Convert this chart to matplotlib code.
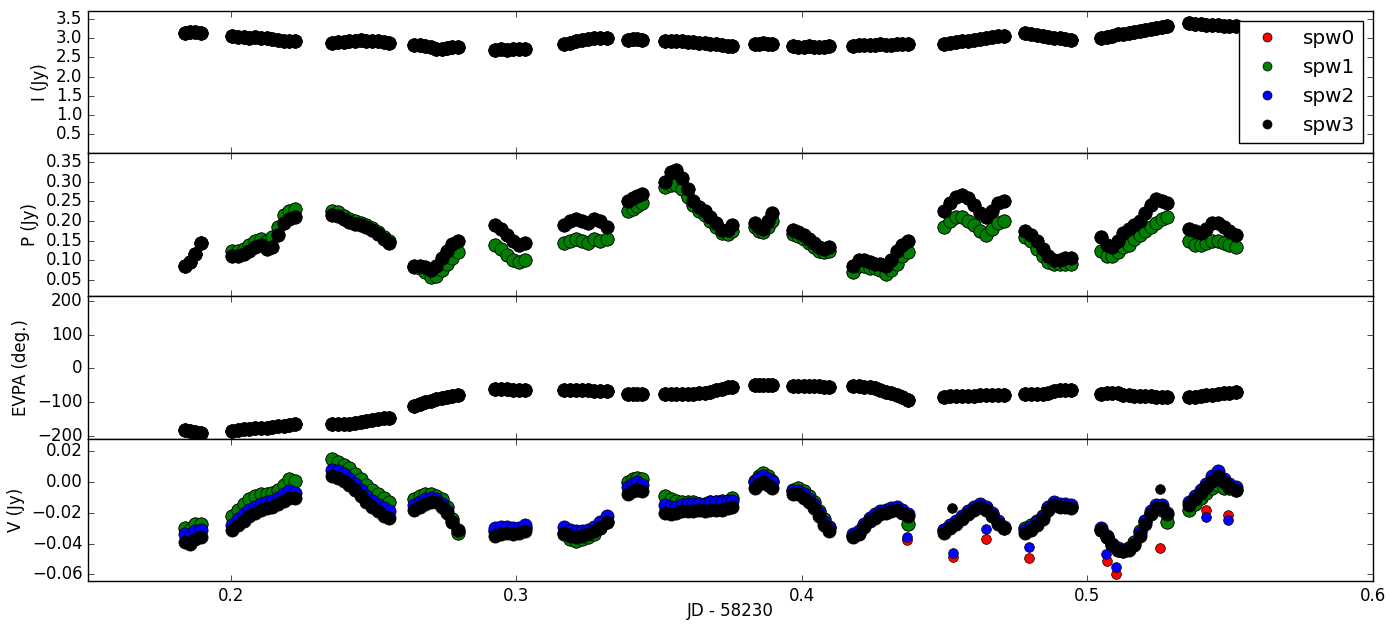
import numpy as np
import matplotlib
matplotlib.use('Agg')
import matplotlib.pyplot as plt

plt.style.use('classic')

# sample times (JD - 58230), one line per scan
jd = np.array([
    0.1838, 0.1857, 0.1876, 0.1896,
    0.2005, 0.2025, 0.2045, 0.2065, 0.2085, 0.2105, 0.2125, 0.2145, 0.2165, 0.2185, 0.2205, 0.2225,
    0.2355, 0.2375, 0.2395, 0.2415, 0.2435, 0.2455, 0.2475, 0.2495, 0.2515, 0.2535, 0.2555,
    0.2643, 0.2662, 0.2681, 0.2700, 0.2719, 0.2738, 0.2757, 0.2776, 0.2797,
    0.2925, 0.2946, 0.2967, 0.2988, 0.3009, 0.3030,
    0.3167, 0.3188, 0.3209, 0.3230, 0.3251, 0.3272, 0.3293, 0.3316,
    0.3391, 0.3408, 0.3424, 0.3441,
    0.3520, 0.3540, 0.3560, 0.3580, 0.3600, 0.3620, 0.3640, 0.3660, 0.3680, 0.3700, 0.3720, 0.3740, 0.3755,
    0.3835, 0.3850, 0.3865, 0.3880, 0.3895,
    0.3970, 0.3988, 0.4006, 0.4024, 0.4042, 0.4060, 0.4078, 0.4095,
    0.4180, 0.4199, 0.4218, 0.4237, 0.4256, 0.4275, 0.4294, 0.4313, 0.4332, 0.4351, 0.4370,
    0.4498, 0.4519, 0.4540, 0.4561, 0.4582, 0.4603, 0.4624, 0.4645, 0.4666, 0.4687, 0.4708,
    0.4783, 0.4803, 0.4823, 0.4843, 0.4863, 0.4883, 0.4903, 0.4923, 0.4942,
    0.5048, 0.5067, 0.5086, 0.5106, 0.5125, 0.5144, 0.5164, 0.5183, 0.5202, 0.5222, 0.5241, 0.5260, 0.5280,
    0.5357, 0.5377, 0.5397, 0.5417, 0.5437, 0.5457, 0.5477, 0.5497, 0.5520,
])

# Stokes I (Jy), all spws
i_jy = np.array([
    3.15, 3.17, 3.16, 3.14,
    3.05, 3.04, 3.03, 3.02, 3.03, 3.01, 3.00, 2.98, 2.95, 2.93, 2.92, 2.92,
    2.88, 2.89, 2.90, 2.92, 2.94, 2.95, 2.94, 2.93, 2.92, 2.90, 2.88,
    2.83, 2.82, 2.80, 2.76, 2.73, 2.72, 2.75, 2.77, 2.78,
    2.70, 2.71, 2.70, 2.72, 2.71, 2.72,
    2.84, 2.88, 2.92, 2.96, 2.99, 3.02, 3.02, 3.00,
    2.96, 2.97, 2.97, 2.96,
    2.93, 2.93, 2.92, 2.92, 2.90, 2.89, 2.88, 2.87, 2.86, 2.84, 2.82, 2.81, 2.80,
    2.85, 2.86, 2.87, 2.86, 2.85,
    2.79, 2.78, 2.78, 2.79, 2.78, 2.77, 2.78, 2.79,
    2.81, 2.82, 2.83, 2.82, 2.83, 2.84, 2.83, 2.83, 2.84, 2.84, 2.85,
    2.85, 2.87, 2.90, 2.92, 2.93, 2.95, 2.98, 3.00, 3.03, 3.05, 3.07,
    3.13, 3.10, 3.08, 3.06, 3.04, 3.02, 3.00, 2.97, 2.95,
    3.02, 3.04, 3.07, 3.10, 3.12, 3.15, 3.17, 3.19, 3.21, 3.24, 3.27, 3.30, 3.33,
    3.40, 3.38, 3.36, 3.35, 3.35, 3.34, 3.33, 3.32, 3.33,
])

# polarized flux (Jy): spw0/spw1 and spw2/spw3
p_spw01 = np.array([
    0.085, 0.095, 0.115, 0.145,
    0.125, 0.125, 0.130, 0.140, 0.150, 0.155, 0.150, 0.160, 0.185, 0.215, 0.225, 0.230,
    0.225, 0.222, 0.212, 0.205, 0.200, 0.195, 0.190, 0.183, 0.172, 0.160, 0.150,
    0.082, 0.080, 0.070, 0.057, 0.060, 0.075, 0.090, 0.105, 0.120,
    0.140, 0.128, 0.113, 0.100, 0.095, 0.100,
    0.145, 0.150, 0.155, 0.150, 0.145, 0.155, 0.150, 0.155,
    0.225, 0.230, 0.237, 0.245,
    0.285, 0.290, 0.290, 0.282, 0.260, 0.240, 0.225, 0.215, 0.200, 0.185, 0.170, 0.168, 0.175,
    0.185, 0.175, 0.172, 0.185, 0.200,
    0.168, 0.162, 0.155, 0.145, 0.135, 0.125, 0.120, 0.125,
    0.070, 0.085, 0.085, 0.080, 0.080, 0.075, 0.065, 0.075, 0.090, 0.110, 0.120,
    0.185, 0.200, 0.210, 0.210, 0.200, 0.190, 0.175, 0.165, 0.180, 0.195, 0.200,
    0.160, 0.150, 0.130, 0.110, 0.095, 0.090, 0.090, 0.090, 0.090,
    0.125, 0.110, 0.110, 0.120, 0.135, 0.140, 0.155, 0.165, 0.175, 0.185, 0.195, 0.205, 0.210,
    0.150, 0.140, 0.140, 0.145, 0.150, 0.150, 0.145, 0.140, 0.135,
])
p_spw23 = np.array([
    0.085, 0.095, 0.115, 0.145,
    0.110, 0.110, 0.115, 0.125, 0.135, 0.140, 0.130, 0.135, 0.165, 0.195, 0.205, 0.210,
    0.215, 0.212, 0.205, 0.198, 0.193, 0.190, 0.185, 0.178, 0.168, 0.155, 0.145,
    0.085, 0.085, 0.082, 0.076, 0.085, 0.105, 0.125, 0.142, 0.150,
    0.190, 0.180, 0.165, 0.150, 0.140, 0.145,
    0.190, 0.200, 0.205, 0.200, 0.195, 0.205, 0.200, 0.185,
    0.250, 0.258, 0.263, 0.268,
    0.300, 0.325, 0.328, 0.310, 0.280, 0.250, 0.235, 0.225, 0.210, 0.195, 0.178, 0.178, 0.190,
    0.195, 0.185, 0.180, 0.200, 0.220,
    0.178, 0.172, 0.165, 0.155, 0.145, 0.135, 0.130, 0.135,
    0.085, 0.100, 0.100, 0.095, 0.090, 0.090, 0.085, 0.100, 0.125, 0.140, 0.148,
    0.225, 0.245, 0.260, 0.265, 0.258, 0.240, 0.220, 0.210, 0.225, 0.245, 0.250,
    0.175, 0.165, 0.150, 0.130, 0.110, 0.100, 0.100, 0.105, 0.105,
    0.160, 0.140, 0.135, 0.150, 0.170, 0.180, 0.190, 0.200, 0.220, 0.240, 0.255, 0.250, 0.245,
    0.180, 0.175, 0.170, 0.180, 0.195, 0.195, 0.185, 0.175, 0.165,
])

# EVPA (deg), all spws
evpa_deg = np.array([
    -182, -186, -190, -193,
    -185, -183, -181, -180, -178, -177, -176, -174, -172, -170, -167, -165,
    -165, -166, -165, -164, -162, -159, -156, -153, -150, -148, -146,
    -112, -105, -100, -96, -92, -88, -85, -82, -80,
    -61, -62, -62, -63, -63, -63,
    -63, -64, -64, -65, -65, -66, -66, -67,
    -76, -77, -77, -76,
    -76, -76, -76, -76, -75, -75, -74, -73, -70, -65, -60, -56, -54,
    -49, -48, -48, -48, -49,
    -51, -51, -52, -52, -52, -53, -54, -55,
    -53, -53, -55, -56, -58, -63, -70, -74, -79, -86, -93,
    -84, -83, -82, -82, -81, -81, -80, -80, -80, -80, -80,
    -75, -76, -76, -75, -73, -68, -64, -63, -64,
    -75, -73, -72, -74, -78, -80, -81, -82, -82, -83, -84, -85, -86,
    -86, -84, -82, -80, -78, -76, -74, -72, -70,
])

# Stokes V (Jy): spw0/spw1, spw2, spw3
v_spw01 = np.array([
    -0.030, -0.031, -0.027, -0.027,
    -0.022, -0.018, -0.014, -0.011, -0.009, -0.008, -0.008, -0.007, -0.005, -0.002, 0.002, 0.001,
    0.015, 0.013, 0.011, 0.009, 0.005, 0.002, -0.002, -0.005, -0.008, -0.010, -0.013,
    -0.011, -0.009, -0.008, -0.008, -0.009, -0.011, -0.016, -0.024, -0.033,
    -0.032, -0.032, -0.031, -0.032, -0.031, -0.030,
    -0.034, -0.037, -0.038, -0.037, -0.036, -0.034, -0.030, -0.026,
    0.000, 0.002, 0.003, 0.002,
    -0.009, -0.011, -0.012, -0.013, -0.013, -0.013, -0.014, -0.014, -0.013, -0.013, -0.012, -0.012, -0.010,
    0.001, 0.004, 0.006, 0.004, 0.001,
    -0.005, -0.004, -0.006, -0.009, -0.013, -0.019, -0.024, -0.029,
    -0.035, -0.033, -0.028, -0.024, -0.022, -0.020, -0.019, -0.018, -0.017, -0.019, -0.027,
    -0.031, -0.029, -0.026, -0.023, -0.020, -0.017, -0.015, -0.017, -0.021, -0.026, -0.030,
    -0.030, -0.028, -0.025, -0.022, -0.017, -0.014, -0.015, -0.015, -0.016,
    -0.031, -0.036, -0.041, -0.044, -0.045, -0.043, -0.039, -0.032, -0.025, -0.020, -0.017, -0.018, -0.026,
    -0.018, -0.014, -0.010, -0.007, -0.004, -0.002, -0.004, -0.004, -0.005,
])
v_spw2 = np.array([
    -0.034, -0.035, -0.032, -0.031,
    -0.028, -0.024, -0.021, -0.018, -0.016, -0.014, -0.013, -0.012, -0.010, -0.008, -0.006, -0.007,
    0.008, 0.007, 0.005, 0.002, -0.001, -0.005, -0.009, -0.012, -0.015, -0.017, -0.019,
    -0.015, -0.013, -0.011, -0.010, -0.011, -0.014, -0.019, -0.026, -0.031,
    -0.030, -0.029, -0.029, -0.030, -0.030, -0.028,
    -0.029, -0.031, -0.032, -0.032, -0.031, -0.029, -0.026, -0.022,
    -0.003, -0.001, 0.000, -0.002,
    -0.015, -0.016, -0.016, -0.015, -0.014, -0.014, -0.014, -0.015, -0.013, -0.013, -0.013, -0.012, -0.012,
    0.000, 0.003, 0.004, 0.002, 0.000,
    -0.006, -0.006, -0.008, -0.011, -0.015, -0.020, -0.026, -0.030,
    -0.034, -0.032, -0.027, -0.023, -0.021, -0.019, -0.018, -0.017, -0.016, -0.018, -0.021,
    -0.031, -0.028, -0.025, -0.022, -0.019, -0.016, -0.014, -0.016, -0.020, -0.025, -0.029,
    -0.031, -0.029, -0.026, -0.022, -0.016, -0.013, -0.014, -0.014, -0.015,
    -0.030, -0.035, -0.040, -0.043, -0.044, -0.043, -0.040, -0.033, -0.025, -0.019, -0.015, -0.015, -0.020,
    -0.013, -0.009, -0.005, -0.001, 0.004, 0.007, 0.002, -0.001, -0.003,
])
v_spw3 = np.array([
    -0.039, -0.040, -0.037, -0.036,
    -0.031, -0.028, -0.025, -0.022, -0.020, -0.018, -0.017, -0.016, -0.014, -0.012, -0.010, -0.010,
    0.004, 0.003, 0.001, -0.002, -0.005, -0.009, -0.013, -0.016, -0.019, -0.022, -0.023,
    -0.018, -0.016, -0.014, -0.013, -0.013, -0.016, -0.020, -0.026, -0.031,
    -0.035, -0.034, -0.033, -0.034, -0.033, -0.032,
    -0.033, -0.035, -0.036, -0.035, -0.034, -0.032, -0.029, -0.026,
    -0.008, -0.006, -0.005, -0.006,
    -0.020, -0.021, -0.020, -0.019, -0.019, -0.019, -0.018, -0.019, -0.018, -0.018, -0.018, -0.017, -0.016,
    -0.004, -0.001, 0.000, -0.002, -0.004,
    -0.008, -0.008, -0.010, -0.013, -0.017, -0.022, -0.028, -0.032,
    -0.036, -0.034, -0.029, -0.025, -0.023, -0.021, -0.020, -0.019, -0.018, -0.020, -0.022,
    -0.033, -0.030, -0.027, -0.024, -0.021, -0.018, -0.016, -0.018, -0.022, -0.027, -0.030,
    -0.033, -0.031, -0.028, -0.024, -0.018, -0.015, -0.016, -0.016, -0.017,
    -0.031, -0.036, -0.041, -0.044, -0.045, -0.044, -0.041, -0.035, -0.027, -0.021, -0.017, -0.017, -0.021,
    -0.015, -0.011, -0.007, -0.003, 0.001, 0.004, 0.000, -0.003, -0.005,
])

# isolated V points
v_out_red_t = [0.4368, 0.4530, 0.4644, 0.4796, 0.5068, 0.5101, 0.5256, 0.5417, 0.5491]
v_out_red = [-0.0375, -0.0490, -0.0370, -0.0495, -0.0513, -0.0600, -0.0430, -0.0180, -0.0215]
v_out_blue_t = [0.4368, 0.4530, 0.4644, 0.4796, 0.5066, 0.5101, 0.5417, 0.5491]
v_out_blue = [-0.0355, -0.0460, -0.0305, -0.0425, -0.0465, -0.0550, -0.0225, -0.0245]
v_out_black_t = [0.4527, 0.5253]
v_out_black = [-0.0170, -0.0045]

spw_names = ['spw0', 'spw1', 'spw2', 'spw3']
spw_colors = ['r', 'g', 'b', 'k']
p_by_spw = [p_spw01, p_spw01, p_spw23, p_spw23]
v_by_spw = [v_spw01, v_spw01, v_spw2, v_spw3]

fig, axes = plt.subplots(4, 1, sharex=True, figsize=(13.91, 6.25), dpi=100)
fig.subplots_adjust(left=0.0633, right=0.987, top=0.9824, bottom=0.0704, hspace=0)
ax_i, ax_p, ax_e, ax_v = axes

msize = 9.5
mk = dict(marker='o', linestyle='none', markersize=msize, markeredgecolor='k', markeredgewidth=0.5)

for n in range(4):
    c = spw_colors[n]
    ax_i.plot(jd, i_jy, color=c, markerfacecolor=c, label=spw_names[n], **mk)
    ax_p.plot(jd, p_by_spw[n], color=c, markerfacecolor=c, **mk)
    ax_e.plot(jd, evpa_deg, color=c, markerfacecolor=c, **mk)
    ax_v.plot(jd, v_by_spw[n], color=c, markerfacecolor=c, **mk)

# single stray points (drawn at normal marker size)
out_mk = dict(mk, markersize=7)
ax_v.plot(v_out_red_t, v_out_red, color='r', markerfacecolor='r', **out_mk)
ax_v.plot(v_out_blue_t, v_out_blue, color='b', markerfacecolor='b', **out_mk)
ax_v.plot(v_out_black_t, v_out_black, color='k', markerfacecolor='k', **out_mk)

ax_i.set_ylim(0, 3.71)
ax_i.set_yticks(np.arange(0.5, 3.51, 0.5))
ax_i.set_ylabel('I (Jy)')

ax_p.set_ylim(0.0097, 0.371)
ax_p.set_yticks(np.arange(0.05, 0.351, 0.05))
ax_p.set_ylabel('P (Jy)')

ax_e.set_ylim(-208, 215)
ax_e.set_yticks([-200, -100, 0, 100, 200])
ax_e.set_ylabel('EVPA (deg.)')

ax_v.set_ylim(-0.0643, 0.0284)
ax_v.set_yticks([-0.06, -0.04, -0.02, 0.0, 0.02])
ax_v.set_ylabel('V (Jy)')

ax_v.set_xlim(0.15, 0.6)
ax_v.set_xticks([0.2, 0.3, 0.4, 0.5, 0.6])
ax_v.set_xlabel('JD - 58230', labelpad=-2)

ax_i.legend(loc='upper right', numpoints=1, markerscale=6.5 / msize)

fig.savefig('out.png', dpi=100)
